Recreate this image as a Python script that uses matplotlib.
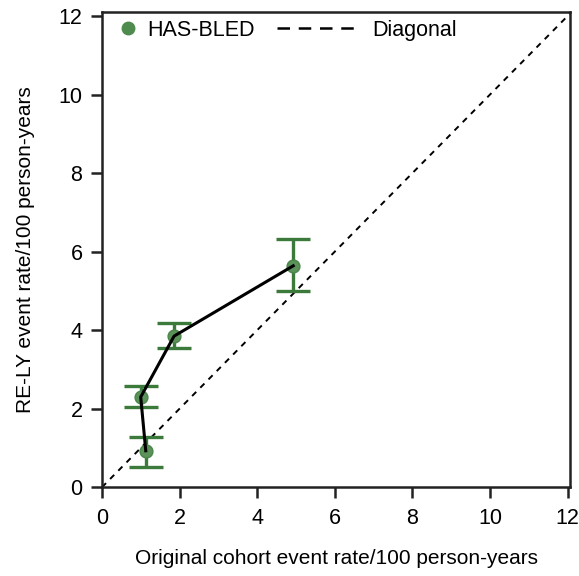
import matplotlib.pyplot as plt
from matplotlib.lines import Line2D
import numpy as np

plt.rcParams['font.family'] = ['Liberation Sans', 'DejaVu Sans']

# data
orig_rate = [1.13, 1.00, 1.86, 4.93]
rely_rate = [0.93, 2.30, 3.85, 5.64]
err_low = [0.52, 2.05, 3.54, 5.01]
err_high = [1.28, 2.58, 4.19, 6.32]
ticks = [0, 2, 4, 6, 8, 10, 12]

x = np.array(orig_rate)
y = np.array(rely_rate)
yerr = [y - np.array(err_low), np.array(err_high) - y]

fig = plt.figure(figsize=(5.79, 5.76), dpi=100)
ax = fig.add_axes([0.176, 0.154, 0.809, 0.825])

green = '#3b7a3b'
ax.plot([0, 12.07], [0, 12.07], linestyle=(0, (3, 3)), color='black', lw=1.4, zorder=1)
ax.errorbar(x, y, yerr=yerr, fmt='none', ecolor=green, elinewidth=2.4, capsize=12.5,
            capthick=2.4, zorder=2)
ax.scatter(x, y, s=85, color='#5a925a', edgecolors='#4a864a', zorder=3)
ax.plot(x, y, color='black', lw=2.2, zorder=4)

ax.set_xlim(0, 12.07)
ax.set_ylim(0, 12.1)
ax.set_xticks(ticks)
ax.set_yticks(ticks)
ax.tick_params(labelsize=15.5, width=1.8, length=8, direction='out', colors='#222222', labelcolor='black')
ax.tick_params(axis='x', pad=7)
ax.tick_params(axis='y', pad=6)
for s in ax.spines.values():
    s.set_linewidth(1.8)
    s.set_color('#222222')

ax.set_xlabel('Original cohort event rate/100 person-years', fontsize=15, labelpad=14)
ax.set_ylabel('RE-LY event rate/100 person-years', fontsize=15, labelpad=17)

# legend: marker entry and dashed entry drawn separately
h1 = Line2D([], [], marker='o', ls='none', markersize=9, color='#4f8a4f')
h2 = Line2D([], [], ls=(0, (5, 3.5)), color='black', lw=1.8)
leg1 = ax.legend([h1], ['HAS-BLED'], loc='upper left', bbox_to_anchor=(-0.005, 1.025),
                 frameon=False, fontsize=15.5, handlelength=0.8, handletextpad=0.5)
ax.add_artist(leg1)
ax.legend([h2], ['Diagonal'], loc='upper left', bbox_to_anchor=(0.333, 1.025),
          frameon=False, fontsize=15.5, handlelength=3.8, handletextpad=0.6)

fig.savefig('out.png', dpi=100)
